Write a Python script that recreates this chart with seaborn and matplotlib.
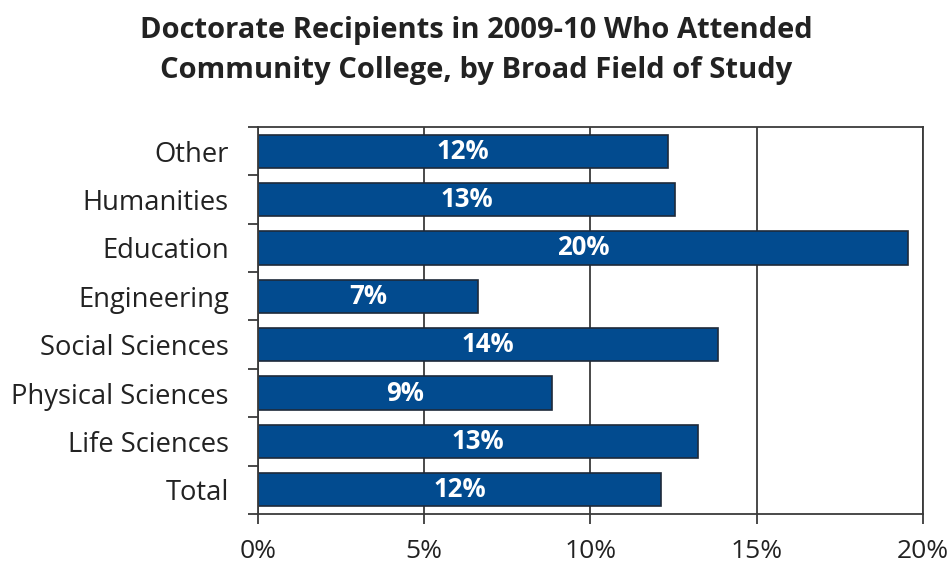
import pandas as pd
import matplotlib.pyplot as plt
import seaborn as sns
from matplotlib.ticker import FuncFormatter

sns.set_theme(style="white")
plt.rcParams["font.family"] = ["Open Sans", "DejaVu Sans"]

campos = ["Other", "Humanities", "Education", "Engineering",
          "Social Sciences", "Physical Sciences", "Life Sciences", "Total"]
valores = [12.34, 12.54, 19.54, 6.63, 13.83, 8.83, 13.23, 12.13]
etiquetas = ["12%", "13%", "20%", "7%", "14%", "9%", "13%", "12%"]

df = pd.DataFrame({"campo": campos, "valor": valores, "etiqueta": etiquetas})

fig = plt.figure(figsize=(9.53, 5.64), dpi=100)
ax = fig.add_axes([0.2707, 0.0887, 0.6978, 0.6861])

color_linea = "#3a3a3a"
sns.barplot(data=df, y="campo", x="valor", orient="h", color="#024b8f",
            saturation=1, width=0.69, edgecolor="#1e2a3a", linewidth=1.2, ax=ax)

for i, fila in enumerate(df.itertuples(index=False)):
    ax.text(fila.valor / 2, i, fila.etiqueta, ha="center", va="center",
            color="white", fontsize=18.5, fontweight="bold")

ax.set_xlim(0, 20)
ax.set_ylim(7.5, -0.5)
ax.set_xticks([0, 5, 10, 15, 20])
ax.xaxis.set_major_formatter(FuncFormatter(lambda v, p: f"{v:.0f}%"))
ax.set_yticks(range(len(campos)))
ax.set_yticklabels(campos)
ax.set_yticks([i + 0.5 for i in range(-1, len(campos))], minor=True)
ax.grid(axis="x", color=color_linea, linewidth=1.3, zorder=0)
ax.set_axisbelow(True)
ax.set_xlabel("")
ax.set_ylabel("")

for s in ax.spines.values():
    s.set_color(color_linea)
    s.set_linewidth(1.3)

ax.tick_params(axis="x", which="major", length=7, width=1.3, color=color_linea,
               labelsize=19, pad=11, direction="out", bottom=True)
ax.tick_params(axis="y", which="major", length=0, labelsize=19.7, pad=21)
ax.tick_params(axis="y", which="minor", length=7, width=1.3, color=color_linea,
               direction="out", left=True)
for lab in ax.get_xticklabels() + ax.get_yticklabels():
    lab.set_color("#222222")

fig.text(0.5, 0.91, "Doctorate Recipients in 2009-10 Who Attended\n"
         "Community College, by Broad Field of Study",
         ha="center", va="center", fontsize=21, fontweight="bold",
         color="#222222", linespacing=1.5)

fig.savefig("out.png", dpi=100)
